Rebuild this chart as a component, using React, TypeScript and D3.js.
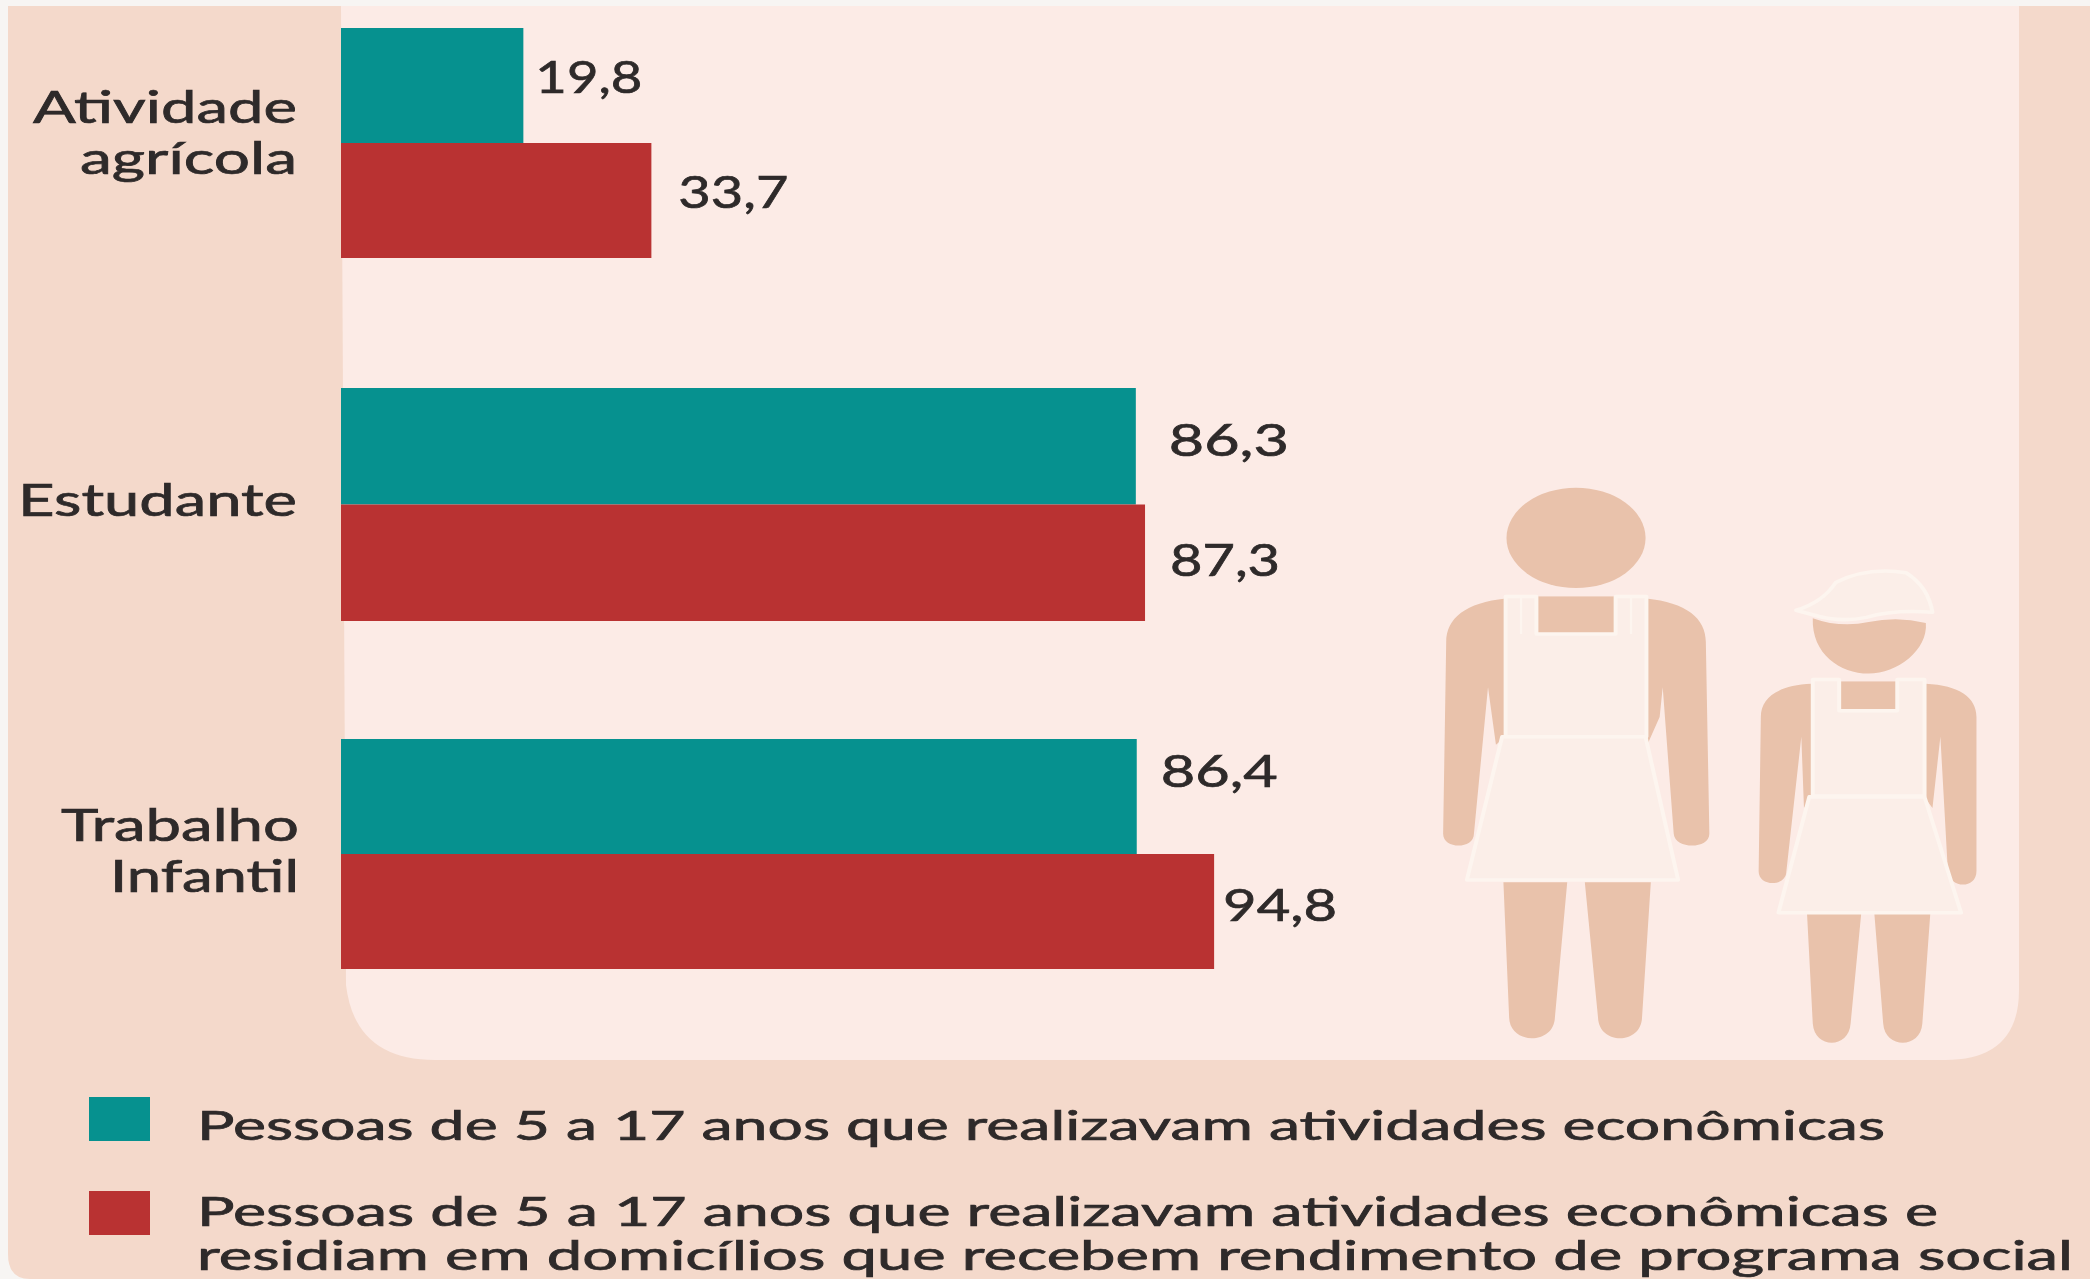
import React from "react";
import * as d3 from "d3";

const categories = ["Atividade agrícola", "Estudante", "Trabalho Infantil"];
const economicActivity = [19.8, 86.3, 86.4];
const socialProgram = [33.7, 87.3, 94.8];
const legendLabels = [
  "Pessoas de 5 a 17 anos que realizavam atividades econômicas",
  "Pessoas de 5 a 17 anos que realizavam atividades econômicas e",
  "residiam em domicílios que recebem rendimento de programa social",
];
const valueLabel = (v: number) => v.toFixed(1).replace(".", ",");

const W = 2090, H = 1279;
const TEAL = "#06918f", RED = "#b93232", OUTER = "#f4d9cb", INNER = "#fcebe6";
const INK = "#2e2a2a", SKIN = "#e9c2ab", APRON = "#fbeee8", EDGE = "#fdf5ef";
const FONT = "Lato, 'Open Sans', sans-serif";

const groupTop = d3.scaleOrdinal<string, number>().domain(categories).range([28, 388, 739]);
const groupHeight = d3.scaleOrdinal<string, number>().domain(categories).range([230, 233, 230]);
const x = d3.scaleLinear().domain([0, 100]).range([341, 341 + 921]);

const tealLabel = [{ dx: 12, dy: 65, w: 107 }, { dx: 33, dy: 68, w: 120 }, { dx: 24, dy: 48, w: 117 }];
const redLabel = [{ dx: 27, dy: 65, w: 110 }, { dx: 25, dy: 71, w: 110 }, { dx: 9, dy: 67, w: 114 }];
const categoryLines = [
  [{ t: "Atividade", x: 33, y: 123, w: 264 }, { t: "agrícola", x: 80, y: 174, w: 217 }],
  [{ t: "Estudante", x: 18, y: 516, w: 279 }],
  [{ t: "Trabalho", x: 61, y: 841, w: 238 }, { t: "Infantil", x: 110, y: 892, w: 189 }],
];

function T({ t, x, y, w, size = 44 }: { t: string; x: number; y: number; w: number; size?: number }) {
  return (
    <text x={x} y={y} textLength={w} lengthAdjust="spacingAndGlyphs" fontFamily={FONT} fontSize={size} fill={INK} stroke={INK} strokeWidth={0.7}>
      {t}
    </text>
  );
}

function Figures() {
  const apron = { fill: APRON, stroke: EDGE, strokeWidth: 9, strokeLinejoin: "round" as const };
  return (
    <g transform={`translate(1400,460) scale(${690 / 1568},${620 / 1568})`}>
      {/* adult */}
      <g fill={SKIN}>
        <ellipse cx={400} cy={197} rx={158} ry={127} />
        <path d="M240 350C150 360 105 400 105 460L98 945C98 985 168 985 168 945L200 575L218 720L240 700Z" />
        <path d="M560 350C650 360 695 400 695 460L703 945C703 985 625 985 622 945L597 575L590 650L562 720Z" />
        <rect x={300} y={345} width={200} height={100} />
        <path d="M235 1068H380L352 1410C350 1480 250 1480 248 1410Z" />
        <path d="M420 1068H570L550 1410C548 1480 452 1480 450 1410Z" />
      </g>
      <path d="M240 345H310V440H490V345H560V700H240Z" {...apron} />
      <path d="M232 700H558L632 1062H152Z" {...apron} />
      <path d="M275 345V440M525 345V440" stroke={EDGE} strokeWidth={5} fill="none" />
      {/* child */}
      <g fill={SKIN}>
        <path d="M938 400Q1000 425 1065 410Q1130 395 1195 412C1200 480 1130 540 1065 540C1000 540 935 490 938 400Z" />
        <path d="M935 566C860 570 820 600 820 650L815 1040C815 1080 878 1080 878 1040L912 700L918 880L940 850Z" />
        <path d="M1195 566C1270 570 1310 600 1310 650V1040C1310 1085 1250 1085 1245 1040L1228 700L1210 880L1190 850Z" />
        <rect x={985} y={560} width={160} height={80} />
        <path d="M925 1148H1048L1024 1425C1020 1490 942 1490 938 1425Z" />
        <path d="M1078 1148H1205L1187 1425C1183 1490 1102 1490 1098 1425Z" />
      </g>
      <path d="M938 555H998V634H1130V555H1192V850H938Z" {...apron} />
      <path d="M930 852H1192L1275 1145H860Z" {...apron} />
      <path d="M900 380Q960 360 990 310Q1060 270 1150 285Q1200 320 1210 385Q1120 378 1060 398Q1000 412 940 392Z" {...apron} />
    </g>
  );
}

export default function App() {
  const rows = categories.map((c, i) => ({ c, i, a: economicActivity[i], b: socialProgram[i], top: groupTop(c), h: groupHeight(c) / 2 }));
  return (
    <svg width={W} height={H} viewBox={`0 0 ${W} ${H}`} style={{ position: "fixed", left: 0, top: 0, display: "block", background: "#f7f5f3" }}>
      <path d={`M8 6H${W}V${H}H30Q8 ${H} 8 ${H - 25}Z`} fill={OUTER} />
      <path d="M341 6H2019V990Q2019 1060 1945 1060H435Q355 1060 346 985Z" fill={INNER} />
      <Figures />
      {rows.map(r => (
        <g key={r.c}>
          <rect x={x(0)} y={r.top} width={x(r.a) - x(0)} height={r.h} fill={TEAL} />
          <rect x={x(0)} y={r.top + r.h} width={x(r.b) - x(0)} height={r.h} fill={RED} />
          <T t={valueLabel(r.a)} x={x(r.a) + tealLabel[r.i].dx} y={r.top + tealLabel[r.i].dy} w={tealLabel[r.i].w} />
          <T t={valueLabel(r.b)} x={x(r.b) + redLabel[r.i].dx} y={r.top + r.h + redLabel[r.i].dy} w={redLabel[r.i].w} />
          {categoryLines[r.i].map(l => <T key={l.t} {...l} />)}
        </g>
      ))}
      <rect x={89} y={1097} width={61} height={44} fill={TEAL} />
      <rect x={89} y={1191} width={61} height={44} fill={RED} />
      <T t={legendLabels[0]} x={197} y={1140} w={1688} size={40} />
      <T t={legendLabels[1]} x={197} y={1226} w={1741} size={40} />
      <T t={legendLabels[2]} x={197} y={1270} w={1876} size={40} />
    </svg>
  );
}
